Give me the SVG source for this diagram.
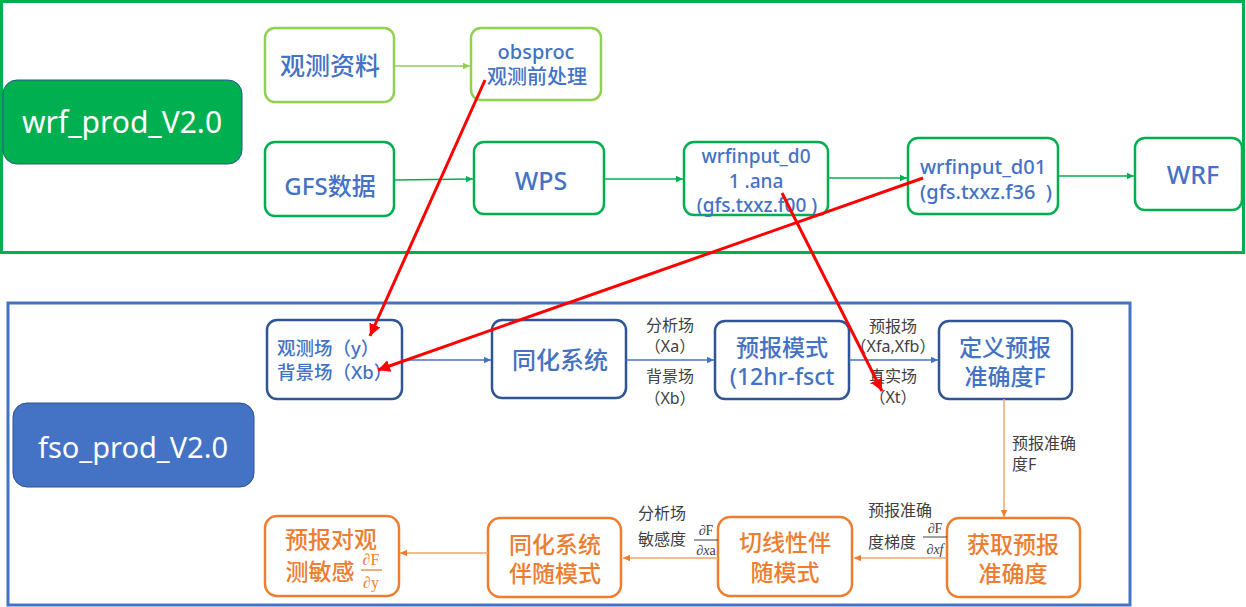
<svg xmlns="http://www.w3.org/2000/svg" width="1246" height="607" viewBox="0 0 1246 607">
<style>
text{font-family:"Noto Sans","Noto Sans CJK SC",sans-serif;white-space:pre}
.t{fill:#4472C4;text-anchor:middle;font-weight:500}
.o{fill:#ED7D31;text-anchor:middle;font-weight:500}
.lab{fill:#404040;font-size:16px}
.m{font-family:"Liberation Serif","DejaVu Serif",serif;fill:#404040;text-anchor:middle}
.mo{font-family:"Liberation Serif","DejaVu Serif",serif;fill:#ED7D31;text-anchor:middle}
.lg{fill:#fff;stroke:#92D050;stroke-width:2.5}
.g{fill:#fff;stroke:#00B050;stroke-width:2.5}
.b{fill:#fff;stroke:#2F5597;stroke-width:2.5}
.or{fill:#fff;stroke:#ED7D31;stroke-width:2.5}
.cg{stroke:#00B050;stroke-width:1.5;fill:none;marker-end:url(#ag)}
.clg{stroke:#92D050;stroke-width:1.5;fill:none;marker-end:url(#alg)}
.cb{stroke:#4472C4;stroke-width:1.5;fill:none;marker-end:url(#ab)}
.co{stroke:#F4A46C;stroke-width:1.5;fill:none;marker-end:url(#ao)}
.cr{stroke:#FF0000;stroke-width:3;fill:none;marker-end:url(#ar)}
</style>
<defs>
<marker id="ag" markerUnits="userSpaceOnUse" markerWidth="8" markerHeight="8" refX="7" refY="4" orient="auto"><path d="M0,0.8 L7,4 L0,7.2 z" fill="#00B050"/></marker>
<marker id="alg" markerUnits="userSpaceOnUse" markerWidth="8" markerHeight="8" refX="7" refY="4" orient="auto"><path d="M0,0.8 L7,4 L0,7.2 z" fill="#92D050"/></marker>
<marker id="ab" markerUnits="userSpaceOnUse" markerWidth="8" markerHeight="8" refX="7" refY="4" orient="auto"><path d="M0,0.8 L7,4 L0,7.2 z" fill="#4472C4"/></marker>
<marker id="ao" markerUnits="userSpaceOnUse" markerWidth="8" markerHeight="8" refX="7" refY="4" orient="auto"><path d="M0,0.8 L7,4 L0,7.2 z" fill="#ED7D31"/></marker>
<marker id="ar" markerUnits="userSpaceOnUse" markerWidth="14" markerHeight="14" refX="12" refY="6" orient="auto"><path d="M0,0 L12,6 L0,12 z" fill="#FF0000"/></marker>
</defs>
<rect width="1246" height="607" fill="#fff"/>

<g id="frame-wrf"><rect x="1.5" y="1.5" width="1242" height="251" fill="none" stroke="#00B050" stroke-width="3"/></g>
<g id="frame-fso"><rect x="8" y="303" width="1122" height="302" fill="none" stroke="#4472C4" stroke-width="3"/></g>

<g id="wrf_prod"><rect x="3" y="80" width="239" height="84" rx="14" fill="#00B050" stroke="#2F5597" stroke-width="1"/><text x="122" y="133" font-size="30" fill="#fff" text-anchor="middle">wrf_prod_V2.0</text></g>
<g id="fso_prod"><rect x="13" y="403" width="241" height="84" rx="14" fill="#4472C4" stroke="#2F528F" stroke-width="1"/><text x="133" y="458" font-size="29" fill="#fff" text-anchor="middle">fso_prod_V2.0</text></g>

<g id="obsdata"><rect class="lg" x="265" y="28" width="129" height="74" rx="10"/><text class="t" x="330" y="75" font-size="25">观测资料</text></g>
<g id="obsproc"><rect class="lg" x="471" y="28" width="130" height="72" rx="10"/><text class="t" x="536" y="59" font-size="20">obsproc</text><text class="t" x="537" y="84" font-size="20">观测前处理</text></g>
<g id="gfs"><rect class="g" x="265" y="142" width="129" height="74" rx="10"/><text class="t" x="330" y="195" font-size="24">GFS数据</text></g>
<g id="wps"><rect class="g" x="474" y="142" width="130" height="72" rx="10"/><text class="t" x="541" y="190" font-size="25">WPS</text></g>
<g id="wrfinput_ana"><rect class="g" x="684" y="142" width="144" height="73" rx="10"/><text class="t" x="756" y="163" font-size="19">wrfinput_d0</text><text class="t" x="756" y="188" font-size="19">1 .ana</text><text class="t" x="757" y="212" font-size="19">(gfs.txxz.f00 )</text></g>
<g id="wrfinput_f36"><rect class="g" x="908" y="138" width="150" height="76" rx="10"/><text class="t" x="983" y="174" font-size="20">wrfinput_d01</text><text class="t" x="986" y="199" font-size="20">(gfs.txxz.f36  )</text></g>
<g id="wrf"><rect class="g" x="1135" y="138" width="107" height="72" rx="10"/><text class="t" x="1193" y="184" font-size="25">WRF</text></g>

<g id="obs_field"><rect class="b" x="267" y="320" width="135" height="79" rx="10"/><text x="277" y="355" font-size="18.5" fill="#4472C4" font-weight="500">观测场（y）</text><text x="277" y="379" font-size="18.5" fill="#4472C4" font-weight="500">背景场（Xb）</text></g>
<g id="da"><rect class="b" x="492" y="320" width="134" height="78" rx="10"/><text class="t" x="560" y="369" font-size="24">同化系统</text></g>
<g id="fcst"><rect class="b" x="715" y="321" width="134" height="78" rx="10"/><text class="t" x="782" y="356" font-size="23" font-weight="bold">预报模式</text><text class="t" x="782" y="385" font-size="23" font-weight="bold">(12hr-fsct</text></g>
<g id="def_F"><rect class="b" x="939" y="321" width="133" height="78" rx="10"/><text class="t" x="1005" y="356" font-size="23" font-weight="bold">定义预报</text><text class="t" x="1005" y="385" font-size="23" font-weight="bold">准确度F</text></g>

<g id="get_F"><rect class="or" x="947" y="518" width="133" height="79" rx="12"/><text class="o" x="1013" y="553" font-size="23">获取预报</text><text class="o" x="1013" y="582" font-size="23">准确度</text></g>
<g id="tl_adj"><rect class="or" x="718" y="517" width="134" height="79" rx="12"/><text class="o" x="785" y="551" font-size="23">切线性伴</text><text class="o" x="785" y="581" font-size="23">随模式</text></g>
<g id="da_adj"><rect class="or" x="488" y="518" width="133" height="79" rx="12"/><text class="o" x="555" y="553" font-size="23">同化系统</text><text class="o" x="555" y="582" font-size="23">伴随模式</text></g>
<g id="fso"><rect class="or" x="265" y="516" width="134" height="80" rx="12"/><text class="o" x="331" y="548" font-size="23">预报对观</text><text class="o" x="320" y="580" font-size="23">测敏感</text><text class="mo" x="371" y="565" font-size="16">∂F</text><line x1="361" y1="570" x2="382" y2="570" stroke="#ED7D31" stroke-width="1.3"/><text class="mo" x="371" y="588" font-size="16">∂y</text></g>

<g id="connectors">
<line class="clg" x1="394" y1="66" x2="470" y2="66"/>
<line class="cg" x1="394" y1="180" x2="473" y2="179"/>
<line class="cg" x1="604" y1="179" x2="683" y2="179"/>
<line class="cg" x1="828" y1="178" x2="907" y2="178"/>
<line class="cg" x1="1058" y1="176" x2="1134" y2="176"/>
<line class="cb" x1="402" y1="360" x2="491" y2="360"/>
<line class="cb" x1="626" y1="360" x2="714" y2="360"/>
<line class="cb" x1="849" y1="360" x2="938" y2="360"/>
<line class="co" x1="1004" y1="399" x2="1004" y2="517"/>
<line class="co" x1="947" y1="558" x2="854" y2="558"/>
<line class="co" x1="718" y1="558" x2="623" y2="558"/>
<line class="co" x1="488" y1="553" x2="400" y2="553"/>
<text class="lab" x="670" y="331" text-anchor="middle">分析场</text>
<text class="lab" x="670" y="352" text-anchor="middle">（Xa）</text>
<text class="lab" x="670" y="382" text-anchor="middle">背景场</text>
<text class="lab" x="670" y="404" text-anchor="middle">（Xb）</text>
<text class="lab" x="893" y="332" text-anchor="middle">预报场</text>
<text class="lab" x="893" y="352" text-anchor="middle">（Xfa,Xfb）</text>
<text class="lab" x="893" y="382" text-anchor="middle">真实场</text>
<text class="lab" x="893" y="403" text-anchor="middle">（Xt）</text>
<text class="lab" x="1012" y="449">预报准确</text>
<text class="lab" x="1012" y="470">度F</text>
<text class="lab" x="868" y="516">预报准确</text>
<text class="lab" x="868" y="548">度梯度</text>
<text class="m" x="935" y="533" font-size="14">∂F</text><line x1="923" y1="537" x2="947" y2="537" stroke="#404040" stroke-width="1"/><text class="m" x="935" y="554" font-size="14">∂<tspan font-style="italic">xf</tspan></text>
<text class="lab" x="638" y="519">分析场</text>
<text class="lab" x="638" y="545">敏感度</text>
<text class="m" x="706" y="535" font-size="14">∂F</text><line x1="694" y1="540" x2="718" y2="540" stroke="#404040" stroke-width="1"/><text class="m" x="706" y="555" font-size="14">∂<tspan font-style="italic">x</tspan>a</text>
<line class="cr" x1="485" y1="80" x2="370" y2="336"/>
<line class="cr" x1="923" y1="178" x2="378" y2="370"/>
<line class="cr" x1="782" y1="193" x2="882" y2="391"/>
</g>
</svg>
